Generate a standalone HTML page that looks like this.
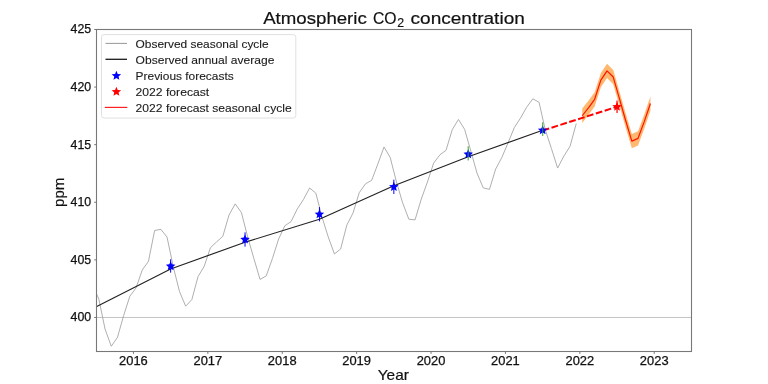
<!DOCTYPE html>
<html><head><meta charset="utf-8"><style>
html,body{margin:0;padding:0;background:#fff;width:768px;height:384px;overflow:hidden;font-family:"Liberation Sans",sans-serif;}
svg{display:block;will-change:transform;}
</style></head><body>
<svg width="768" height="384" viewBox="0 0 768 384">
<defs><clipPath id="ax"><rect x="96.5" y="29.5" width="595.0" height="322.0"/></clipPath></defs>
<g clip-path="url(#ax)">
<line x1="96.5" y1="317.47" x2="691.5" y2="317.47" stroke="#b4b4b4" stroke-width="0.8"/>
<polyline points="61.64,317.70 67.84,314.24 74.04,299.73 80.24,279.68 86.44,271.85 92.64,285.21 98.84,299.04 105.04,328.99 111.24,346.27 117.44,337.40 123.64,315.63 129.84,296.16 136.04,287.98 142.24,270.01 148.44,261.37 154.64,230.49 160.84,229.34 167.04,237.06 173.24,266.67 179.44,291.32 185.64,306.18 191.84,299.61 198.04,276.57 204.24,266.21 210.44,247.66 216.64,241.90 222.84,236.25 229.04,214.94 235.24,203.88 241.44,212.64 247.64,236.83 253.84,258.37 260.04,279.45 266.24,275.88 272.44,258.49 278.64,239.02 284.84,225.77 291.04,221.62 297.24,209.07 303.44,199.51 309.64,187.99 315.84,193.17 322.04,217.13 328.24,236.95 334.44,253.99 340.64,248.93 346.84,225.08 353.04,212.98 359.24,192.71 365.44,183.84 371.64,180.38 377.84,164.02 384.04,146.97 390.24,157.57 396.44,181.88 402.64,202.85 408.84,219.20 415.04,219.90 421.24,199.16 427.44,181.99 433.64,163.10 439.84,154.92 446.04,150.31 452.24,129.69 458.44,119.44 464.64,129.35 470.84,151.12 477.04,173.24 483.24,187.87 489.44,189.37 495.64,169.09 501.84,157.46 508.04,142.94 514.24,127.74 520.44,118.17 526.64,107.23 532.84,98.82 539.04,102.28 545.24,129.69 551.44,148.59 557.64,168.06 563.84,156.19 570.04,146.28 576.24,123.59" fill="none" stroke="#a0a0a0" stroke-width="0.85" stroke-linejoin="round"/>
<polyline points="96.24,306.76 170.64,268.97 245.04,242.24 319.44,219.32 393.84,185.68 468.24,156.77 542.64,130.27" fill="none" stroke="#222222" stroke-width="1.15" stroke-linejoin="round"/>
<polygon points="582.24,108.61 588.44,100.66 594.64,92.14 600.84,73.02 607.04,63.80 613.24,69.91 619.44,91.45 625.64,113.34 631.84,133.96 638.04,131.19 644.24,114.49 650.44,96.40 650.44,110.69 644.24,128.77 638.04,145.48 631.84,148.24 625.64,127.62 619.44,105.73 613.24,84.19 607.04,78.08 600.84,87.30 594.64,106.42 588.44,114.95 582.24,122.90" fill="#ffb870"/>
<polyline points="582.24,115.75 588.44,107.81 594.64,99.28 600.84,80.16 607.04,70.94 613.24,77.05 619.44,98.59 625.64,120.48 631.84,141.10 638.04,138.33 644.24,121.63 650.44,103.54" fill="none" stroke="#ff1400" stroke-width="1.2" stroke-linejoin="round"/>
<line x1="542.64" y1="130.50" x2="617.04" y2="106.77" stroke="#ff0000" stroke-width="2.0" stroke-dasharray="6.8,2.5"/>
<line x1="170.64" y1="259.29" x2="170.64" y2="272.66" stroke="#0000ff" stroke-width="1.0"/>
<line x1="245.04" y1="232.34" x2="245.04" y2="246.62" stroke="#0000ff" stroke-width="1.0"/>
<line x1="319.44" y1="207.11" x2="319.44" y2="221.39" stroke="#0000ff" stroke-width="1.0"/>
<line x1="393.84" y1="179.69" x2="393.84" y2="193.98" stroke="#0000ff" stroke-width="1.0"/>
<polygon points="170.64,261.21 171.99,264.35 175.40,264.66 172.83,266.92 173.58,270.25 170.64,268.51 167.70,270.25 168.45,266.92 165.88,264.66 169.29,264.35" fill="#0000ff"/>
<polygon points="245.04,234.48 246.39,237.62 249.80,237.93 247.23,240.19 247.98,243.52 245.04,241.78 242.10,243.52 242.85,240.19 240.28,237.93 243.69,237.62" fill="#0000ff"/>
<polygon points="319.44,209.25 320.79,212.39 324.20,212.71 321.63,214.96 322.38,218.30 319.44,216.55 316.50,218.30 317.25,214.96 314.68,212.71 318.09,212.39" fill="#0000ff"/>
<polygon points="393.84,181.83 395.19,184.97 398.60,185.29 396.03,187.54 396.78,190.88 393.84,189.13 390.90,190.88 391.65,187.54 389.08,185.29 392.49,184.97" fill="#0000ff"/>
<polygon points="468.24,149.23 469.59,152.37 473.00,152.69 470.43,154.94 471.18,158.28 468.24,156.53 465.30,158.28 466.05,154.94 463.48,152.69 466.89,152.37" fill="#0000ff"/>
<polygon points="542.64,125.27 543.99,128.41 547.40,128.72 544.83,130.98 545.58,134.32 542.64,132.57 539.70,134.32 540.45,130.98 537.88,128.72 541.29,128.41" fill="#0000ff"/>
<line x1="468.24" y1="146.17" x2="468.24" y2="160.45" stroke="#2ca02c" stroke-opacity="0.75" stroke-width="1.3"/>
<line x1="542.64" y1="122.21" x2="542.64" y2="136.03" stroke="#2ca02c" stroke-opacity="0.75" stroke-width="1.3"/>
<line x1="617.04" y1="100.55" x2="617.04" y2="112.99" stroke="#ff0000" stroke-width="1.2"/>
<polygon points="617.04,101.77 618.39,104.91 621.80,105.22 619.23,107.48 619.98,110.81 617.04,109.07 614.10,110.81 614.85,107.48 612.28,105.22 615.69,104.91" fill="#ff0000"/>
</g>
<rect x="96.5" y="29.5" width="595.0" height="322.0" fill="none" stroke="#787878" stroke-width="1.1"/>
<line x1="94.2" y1="317.47" x2="96.5" y2="317.47" stroke="#777" stroke-width="1"/>
<text x="91.2" y="321.42" text-anchor="end" font-family="Liberation Sans, sans-serif" font-size="12.3" fill="#111" stroke="#111" stroke-width="0.25" textLength="20.6" lengthAdjust="spacingAndGlyphs">400</text>
<line x1="94.2" y1="259.87" x2="96.5" y2="259.87" stroke="#777" stroke-width="1"/>
<text x="91.2" y="263.82" text-anchor="end" font-family="Liberation Sans, sans-serif" font-size="12.3" fill="#111" stroke="#111" stroke-width="0.25" textLength="20.6" lengthAdjust="spacingAndGlyphs">405</text>
<line x1="94.2" y1="202.27" x2="96.5" y2="202.27" stroke="#777" stroke-width="1"/>
<text x="91.2" y="206.22" text-anchor="end" font-family="Liberation Sans, sans-serif" font-size="12.3" fill="#111" stroke="#111" stroke-width="0.25" textLength="20.6" lengthAdjust="spacingAndGlyphs">410</text>
<line x1="94.2" y1="144.67" x2="96.5" y2="144.67" stroke="#777" stroke-width="1"/>
<text x="91.2" y="148.62" text-anchor="end" font-family="Liberation Sans, sans-serif" font-size="12.3" fill="#111" stroke="#111" stroke-width="0.25" textLength="20.6" lengthAdjust="spacingAndGlyphs">415</text>
<line x1="94.2" y1="87.07" x2="96.5" y2="87.07" stroke="#777" stroke-width="1"/>
<text x="91.2" y="91.02" text-anchor="end" font-family="Liberation Sans, sans-serif" font-size="12.3" fill="#111" stroke="#111" stroke-width="0.25" textLength="20.6" lengthAdjust="spacingAndGlyphs">420</text>
<line x1="94.2" y1="29.47" x2="96.5" y2="29.47" stroke="#777" stroke-width="1"/>
<text x="91.2" y="33.42" text-anchor="end" font-family="Liberation Sans, sans-serif" font-size="12.3" fill="#111" stroke="#111" stroke-width="0.25" textLength="20.6" lengthAdjust="spacingAndGlyphs">425</text>
<line x1="133.44" y1="351.5" x2="133.44" y2="353.9" stroke="#777" stroke-width="1"/>
<text x="133.44" y="364.8" text-anchor="middle" font-family="Liberation Sans, sans-serif" font-size="12.2" fill="#111" stroke="#111" stroke-width="0.25" textLength="28.7" lengthAdjust="spacingAndGlyphs">2016</text>
<line x1="207.84" y1="351.5" x2="207.84" y2="353.9" stroke="#777" stroke-width="1"/>
<text x="207.84" y="364.8" text-anchor="middle" font-family="Liberation Sans, sans-serif" font-size="12.2" fill="#111" stroke="#111" stroke-width="0.25" textLength="28.7" lengthAdjust="spacingAndGlyphs">2017</text>
<line x1="282.24" y1="351.5" x2="282.24" y2="353.9" stroke="#777" stroke-width="1"/>
<text x="282.24" y="364.8" text-anchor="middle" font-family="Liberation Sans, sans-serif" font-size="12.2" fill="#111" stroke="#111" stroke-width="0.25" textLength="28.7" lengthAdjust="spacingAndGlyphs">2018</text>
<line x1="356.64" y1="351.5" x2="356.64" y2="353.9" stroke="#777" stroke-width="1"/>
<text x="356.64" y="364.8" text-anchor="middle" font-family="Liberation Sans, sans-serif" font-size="12.2" fill="#111" stroke="#111" stroke-width="0.25" textLength="28.7" lengthAdjust="spacingAndGlyphs">2019</text>
<line x1="431.04" y1="351.5" x2="431.04" y2="353.9" stroke="#777" stroke-width="1"/>
<text x="431.04" y="364.8" text-anchor="middle" font-family="Liberation Sans, sans-serif" font-size="12.2" fill="#111" stroke="#111" stroke-width="0.25" textLength="28.7" lengthAdjust="spacingAndGlyphs">2020</text>
<line x1="505.44" y1="351.5" x2="505.44" y2="353.9" stroke="#777" stroke-width="1"/>
<text x="505.44" y="364.8" text-anchor="middle" font-family="Liberation Sans, sans-serif" font-size="12.2" fill="#111" stroke="#111" stroke-width="0.25" textLength="28.7" lengthAdjust="spacingAndGlyphs">2021</text>
<line x1="579.84" y1="351.5" x2="579.84" y2="353.9" stroke="#777" stroke-width="1"/>
<text x="579.84" y="364.8" text-anchor="middle" font-family="Liberation Sans, sans-serif" font-size="12.2" fill="#111" stroke="#111" stroke-width="0.25" textLength="28.7" lengthAdjust="spacingAndGlyphs">2022</text>
<line x1="654.24" y1="351.5" x2="654.24" y2="353.9" stroke="#777" stroke-width="1"/>
<text x="654.24" y="364.8" text-anchor="middle" font-family="Liberation Sans, sans-serif" font-size="12.2" fill="#111" stroke="#111" stroke-width="0.25" textLength="28.7" lengthAdjust="spacingAndGlyphs">2023</text>
<text x="393.3" y="380.3" text-anchor="middle" font-family="Liberation Sans, sans-serif" font-size="14.6" fill="#111" stroke="#111" stroke-width="0.2" textLength="31.2" lengthAdjust="spacingAndGlyphs">Year</text>
<text transform="translate(64.3,192.3) rotate(-90)" x="0" y="0" text-anchor="middle" font-family="Liberation Sans, sans-serif" font-size="15" fill="#111" stroke="#111" stroke-width="0.2" textLength="29.4" lengthAdjust="spacingAndGlyphs">ppm</text>
<text x="263.2" y="24.2" font-family="Liberation Sans, sans-serif" font-size="17.3" fill="#111" stroke="#111" stroke-width="0.2" textLength="103.6" lengthAdjust="spacingAndGlyphs">Atmospheric</text>
<text x="372.9" y="24.2" font-family="Liberation Sans, sans-serif" font-size="17.3" fill="#111" stroke="#111" stroke-width="0.2" textLength="23.6" lengthAdjust="spacingAndGlyphs">CO</text>
<text x="397.3" y="26.6" font-family="Liberation Sans, sans-serif" font-size="12.3" fill="#111" stroke="#111" stroke-width="0.15" textLength="6.9" lengthAdjust="spacingAndGlyphs">2</text>
<text x="410.6" y="24.2" font-family="Liberation Sans, sans-serif" font-size="17.3" fill="#111" stroke="#111" stroke-width="0.2" textLength="114.2" lengthAdjust="spacingAndGlyphs">concentration</text>
<rect x="101.5" y="34.6" width="194.3" height="83.4" rx="2.5" ry="2.5" fill="#ffffff" fill-opacity="0.8" stroke="#e0e0e0" stroke-width="1"/>
<line x1="105.5" y1="43.4" x2="127" y2="43.4" stroke="#8c8c8c" stroke-width="0.9"/>
<line x1="105.5" y1="59.3" x2="127" y2="59.3" stroke="#1a1a1a" stroke-width="1.3"/>
<polygon points="116.40,70.70 117.72,73.88 121.16,74.15 118.54,76.40 119.34,79.75 116.40,77.95 113.46,79.75 114.26,76.40 111.64,74.15 115.08,73.88" fill="#0000ff"/>
<polygon points="116.40,86.80 117.72,89.98 121.16,90.25 118.54,92.50 119.34,95.85 116.40,94.05 113.46,95.85 114.26,92.50 111.64,90.25 115.08,89.98" fill="#ff0000"/>
<line x1="104.8" y1="107.4" x2="127.3" y2="107.4" stroke="#ff2020" stroke-width="1.2"/>
<text x="135.6" y="47.60" font-family="Liberation Sans, sans-serif" font-size="10.8" fill="#1a1a1a" stroke="#1a1a1a" stroke-width="0.1" textLength="133.0" lengthAdjust="spacingAndGlyphs">Observed seasonal cycle</text>
<text x="135.6" y="63.50" font-family="Liberation Sans, sans-serif" font-size="10.8" fill="#1a1a1a" stroke="#1a1a1a" stroke-width="0.1" textLength="138.8" lengthAdjust="spacingAndGlyphs">Observed annual average</text>
<text x="135.6" y="79.50" font-family="Liberation Sans, sans-serif" font-size="10.8" fill="#1a1a1a" stroke="#1a1a1a" stroke-width="0.1" textLength="98.1" lengthAdjust="spacingAndGlyphs">Previous forecasts</text>
<text x="135.6" y="95.60" font-family="Liberation Sans, sans-serif" font-size="10.8" fill="#1a1a1a" stroke="#1a1a1a" stroke-width="0.1" textLength="73.6" lengthAdjust="spacingAndGlyphs">2022 forecast</text>
<text x="135.6" y="111.60" font-family="Liberation Sans, sans-serif" font-size="10.8" fill="#1a1a1a" stroke="#1a1a1a" stroke-width="0.1" textLength="156.1" lengthAdjust="spacingAndGlyphs">2022 forecast seasonal cycle</text>
</svg>
</body></html>
